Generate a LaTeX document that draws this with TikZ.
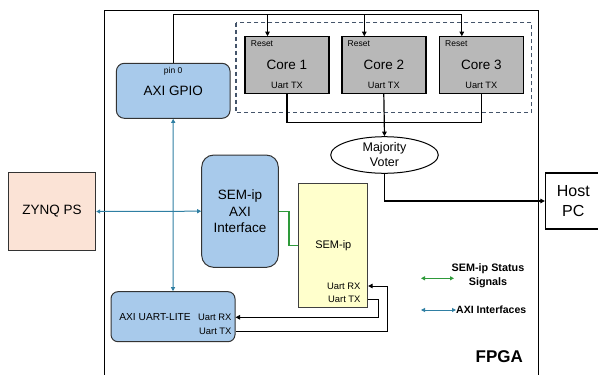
\documentclass[tikz,border=0pt]{standalone}
\usepackage{fontspec}
\setmainfont{Liberation Sans}
\usepackage{xcolor}
\usetikzlibrary{arrows.meta,positioning,calc,shapes.geometric}

\definecolor{ipblue}{HTML}{A8CAEB}
\definecolor{coregray}{HTML}{B8B8B8}
\definecolor{psfill}{HTML}{FBE3D6}
\definecolor{semfill}{HTML}{FFFFCC}
\definecolor{axiline}{HTML}{2F7FA3}
\definecolor{statline}{HTML}{2E9A3A}
\definecolor{dashline}{HTML}{44546A}

\tikzset{
  ipblock/.style={draw=black!80,line width=1pt,fill=ipblue,rounded corners=8pt},
  corebox/.style={draw=black,line width=1.4pt,fill=coregray,minimum width=84pt,minimum height=57pt},
  small/.style={font=\fontsize{8.5}{10}\selectfont,inner sep=0pt},
  big/.style={font=\fontsize{13.5}{16}\selectfont,align=center,inner sep=0pt},
  axi/.style={draw=axiline,line width=1pt,{Triangle[length=4pt,width=4pt]}-{Triangle[length=4pt,width=4pt]}},
  statlink/.style={draw=statline,line width=1.3pt},
  sig/.style={draw=black,line width=1.2pt},
}

\begin{document}
\begin{tikzpicture}[x=1pt,y=-1pt,>={Triangle[length=4.5pt,width=4.5pt]}]
  \clip (0,0) rectangle (598,375);
  % FPGA border and core group
  \draw[line width=1pt] (104,390) -- (104,10) -- (538,10) -- (538,390);
  \draw[dashline,line width=1.1pt,dash pattern=on 4pt off 3pt] (236,22.7) rectangle (531.7,112.7);
  \node[font=\fontsize{17}{20}\selectfont\bfseries] (fpga) at (499.3,356.7) {FPGA};

  % blocks
  \node[draw=black!80,line width=1pt,fill=psfill,minimum width=87.4pt,minimum height=78.4pt,big]
    (zynq) at (52,211.5) {ZYNQ PS};
  \node[ipblock,minimum width=113.7pt,minimum height=55pt] (gpio) at (173.2,90.8) {};
  \node[small] (pin) at (173.2,71.7) {pin 0};
  \node[big] (gpiol) at (173.2,90.7) {AXI GPIO};
  \node[ipblock,rounded corners=12pt,minimum width=76.6pt,minimum height=112.3pt,big,
    font=\fontsize{13.5}{16.3}\selectfont] (semaxi) at (240,211.2) {SEM-ip\\AXI\\Interface};
  \node[ipblock,rounded corners=7pt,minimum width=124pt,minimum height=50pt] (uartlite) at (173,316.7) {};
  \node[font=\fontsize{10.2}{12}\selectfont,inner sep=0pt] (uartlitel) at (155,316.7) {AXI UART-LITE};
  \node[small,font=\fontsize{9.4}{11}\selectfont,anchor=east] (litrx) at (231.7,317.3) {Uart RX};
  \node[small,font=\fontsize{9.4}{11}\selectfont,anchor=east] (littx) at (231.7,331.7) {Uart TX};
  \node[draw=black!75,line width=1pt,fill=semfill,minimum width=68.7pt,minimum height=124.4pt] (semip) at (333.3,245.5) {};
  \node[font=\fontsize{11}{13}\selectfont,inner sep=0pt] (semipl) at (333.3,246) {SEM-ip};
  \node[small,font=\fontsize{9.4}{11}\selectfont,anchor=east] (semrx) at (360.7,286) {Uart RX};
  \node[small,font=\fontsize{9.4}{11}\selectfont,anchor=east] (semtx) at (360.7,299) {Uart TX};

  % cores
  \foreach \i/\x in {1/287,2/383.8,3/481.3}{
    \node[corebox] (core\i) at (\x,64.7) {};
    \node[small,anchor=west] at (\x-36.3,44) {Reset};
    \node[big] at (\x,65) {Core \i};
    \node[small,font=\fontsize{9.2}{11}\selectfont] at (\x,85.7) {Uart TX};
    \coordinate (rst\i) at (\x-19.5,36.2);
  }
  \node[draw=black,line width=1pt,fill=white,ellipse,minimum width=107.6pt,minimum height=36.6pt,
    inner sep=0pt,align=center,font=\fontsize{12.5}{15}\selectfont] (voter) at (384.5,155) {Majority\\Voter};
  \node[draw=black,line width=1.6pt,fill=white,minimum width=55.3pt,minimum height=56.3pt,big,
    font=\fontsize{16}{19.5}\selectfont] (host) at (573.3,201) {Host\\PC};

  % reset lines
  \coordinate (rtop) at (0,14.3);
  \draw[line width=1pt] (gpio.north) |- (rst3 |- rtop);
  \foreach \i in {1,2,3}
    \draw[line width=1pt,->] (rst\i |- rtop) -- (rst\i);

  % uart tx to voter
  \coordinate (merge) at (0,122.3);
  \draw[sig] (core1.south) -- (core1.south |- merge) -- (core3.south |- merge) -- (core3.south);
  \draw[sig,->] (core2.south) -- (voter.north);
  \draw[black,line width=1.6pt,->] (voter.south) |- (host.west);

  % axi interfaces
  \draw[axi] (zynq.east) -- (semaxi.west);
  \draw[axi] (gpio.south) -- (uartlite.north);

  % status signals
  \draw[statlink] (semaxi.east) -- ++(10.3,0) |- (semip.west);

  % uart links
  \draw[sig,line width=1pt,->] (semtx.east -| semip.east) -- ++(10,0) |- (litrx.east -| uartlite.east);
  \draw[sig,line width=1pt,->] (littx.east -| uartlite.east) -- ++(151.7,0) |- (semrx.east -| semip.east);

  % legend
  \coordinate (lgsa) at (421,278.3);
  \coordinate (lgsb) at (454,278.3);
  \coordinate (lgaa) at (421,310);
  \coordinate (lgab) at (456,310);
  \draw[axi,draw=statline] (lgsa) -- (lgsb);
  \draw[axi] (lgaa) -- (lgab);
  \node[font=\fontsize{10.8}{14}\selectfont\bfseries,align=center,inner sep=0pt] (lgs) at (488,276) {SEM-ip Status\\Signals};
  \node[font=\fontsize{10.5}{12}\selectfont\bfseries,anchor=west,inner sep=0pt] (lga) at (lgab) {AXI Interfaces};
\end{tikzpicture}
\end{document}
